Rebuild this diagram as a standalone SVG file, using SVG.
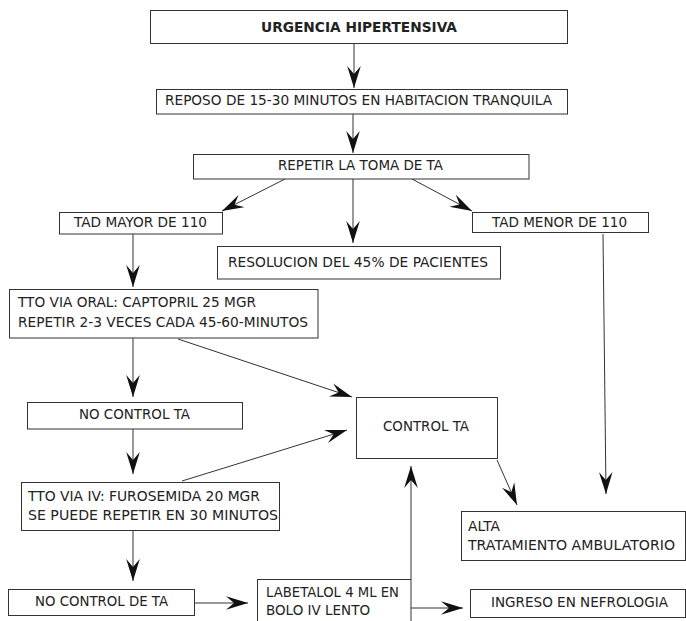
<svg xmlns="http://www.w3.org/2000/svg" width="686" height="621" viewBox="0 0 686 621">
<style>
.b{fill:#fff;stroke:#333;stroke-width:1}
.t{font-family:"DejaVu Sans",Verdana,sans-serif;font-size:13.7px;fill:#222}
.c{text-anchor:middle}
.bold{font-weight:bold;font-size:13.6px}
.e{fill:none;stroke:#333;stroke-width:1;marker-end:url(#ah)}
</style>
<defs>
<marker id="ah" markerUnits="userSpaceOnUse" viewBox="-22 -7 23 14" refX="0" refY="0" markerWidth="23" markerHeight="14" orient="auto">
<path d="M0,0 L-22,-6.8 L-14,0 L-22,6.8 Z" fill="#111"/>
</marker>
</defs>
<g id="connectors">
<line class="e" x1="354" y1="43" x2="354" y2="88"/>
<line class="e" x1="353" y1="114" x2="353" y2="153"/>
<line class="e" x1="285" y1="179" x2="222" y2="211"/>
<line class="e" x1="353" y1="179" x2="353" y2="243"/>
<line class="e" x1="412" y1="179" x2="472" y2="211"/>
<line class="e" x1="133" y1="234" x2="133" y2="287"/>
<line class="e" x1="603" y1="234" x2="606" y2="494"/>
<line class="e" x1="133" y1="338" x2="133" y2="397"/>
<line class="e" x1="178" y1="339" x2="352" y2="397"/>
<line class="e" x1="133" y1="429" x2="133" y2="474"/>
<line class="e" x1="182" y1="481" x2="347" y2="430"/>
<line class="e" x1="497" y1="460" x2="517" y2="505"/>
<line class="e" x1="133" y1="530" x2="133" y2="581"/>
<line class="e" x1="194" y1="603" x2="248" y2="603"/>
<line class="e" x1="411" y1="579" x2="411" y2="466"/>
<line class="e" x1="411" y1="608" x2="463" y2="608"/>
</g>
<g id="n1"><rect class="b" x="150.5" y="10.5" width="417" height="33"/><text class="t c bold" x="359" y="32" textLength="196" lengthAdjust="spacingAndGlyphs">URGENCIA HIPERTENSIVA</text></g>
<g id="n2"><rect class="b" x="156.5" y="89.5" width="411" height="24.5"/><text class="t" x="165" y="104.5" textLength="387" lengthAdjust="spacingAndGlyphs">REPOSO DE 15-30 MINUTOS EN HABITACION TRANQUILA</text></g>
<g id="n3"><rect class="b" x="193.5" y="154.5" width="335.5" height="24.5"/><text class="t" x="278" y="170" textLength="165" lengthAdjust="spacingAndGlyphs">REPETIR LA TOMA DE TA</text></g>
<g id="n4"><rect class="b" x="59.5" y="212.5" width="163" height="21.5"/><text class="t" x="74" y="227" textLength="133" lengthAdjust="spacingAndGlyphs">TAD MAYOR DE 110</text></g>
<g id="n5"><rect class="b" x="472.5" y="212.5" width="176" height="20"/><text class="t" x="492" y="227" textLength="135" lengthAdjust="spacingAndGlyphs">TAD MENOR DE 110</text></g>
<g id="n6"><rect class="b" x="217.5" y="246.5" width="283" height="32.5"/><text class="t" x="228" y="267" textLength="260" lengthAdjust="spacingAndGlyphs">RESOLUCION DEL 45% DE PACIENTES</text></g>
<g id="n7"><rect class="b" x="9.5" y="289.5" width="308.5" height="48.5"/><text class="t" x="18" y="307" textLength="238" lengthAdjust="spacingAndGlyphs">TTO VIA ORAL: CAPTOPRIL 25 MGR</text><text class="t" x="18" y="327" textLength="290" lengthAdjust="spacingAndGlyphs">REPETIR 2-3 VECES CADA 45-60-MINUTOS</text></g>
<g id="n8"><rect class="b" x="27.5" y="402.5" width="215" height="26.5"/><text class="t" x="79" y="419" textLength="111" lengthAdjust="spacingAndGlyphs">NO CONTROL TA</text></g>
<g id="n9"><rect class="b" x="356.5" y="397.5" width="141" height="61"/><text class="t" x="383" y="431" textLength="86" lengthAdjust="spacingAndGlyphs">CONTROL TA</text></g>
<g id="n10"><rect class="b" x="21.5" y="482.5" width="258" height="48"/><text class="t" x="28" y="501" textLength="232" lengthAdjust="spacingAndGlyphs">TTO VIA IV: FUROSEMIDA 20 MGR</text><text class="t" x="28" y="520" textLength="250" lengthAdjust="spacingAndGlyphs">SE PUEDE REPETIR EN 30 MINUTOS</text></g>
<g id="n11"><rect class="b" x="8.5" y="589.5" width="186" height="26"/><text class="t" x="35" y="606" textLength="133" lengthAdjust="spacingAndGlyphs">NO CONTROL DE TA</text></g>
<g id="n12"><rect class="b" x="257.5" y="579.5" width="153.5" height="50"/><text class="t" x="266" y="597" textLength="133" lengthAdjust="spacingAndGlyphs">LABETALOL 4 ML EN</text><text class="t" x="266" y="615" textLength="104" lengthAdjust="spacingAndGlyphs">BOLO IV LENTO</text></g>
<g id="n13"><rect class="b" x="461.5" y="511.5" width="224" height="49"/><text class="t" x="468" y="531" textLength="32" lengthAdjust="spacingAndGlyphs">ALTA</text><text class="t" x="468" y="550" textLength="207" lengthAdjust="spacingAndGlyphs">TRATAMIENTO AMBULATORIO</text></g>
<g id="n14"><rect class="b" x="470.5" y="589.5" width="215" height="28"/><text class="t" x="491" y="607" textLength="177" lengthAdjust="spacingAndGlyphs">INGRESO EN NEFROLOGIA</text></g>
</svg>
